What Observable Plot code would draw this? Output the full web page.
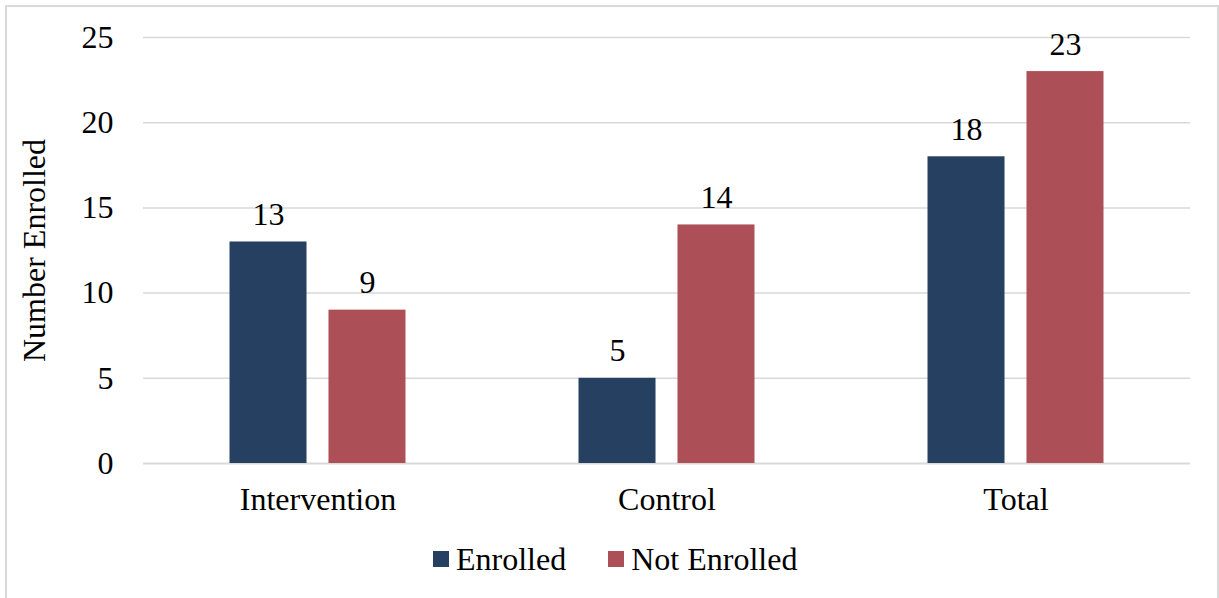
<!DOCTYPE html>
<html><head><meta charset="utf-8">
<script src="https://cdn.jsdelivr.net/npm/d3@7"></script>
<script src="https://cdn.jsdelivr.net/npm/@observablehq/plot@0.6"></script>
<style>
body{margin:0;background:#fff;font-family:"Liberation Serif","Times New Roman",serif;}
#frame{position:absolute;left:5px;top:5px;width:1214px;height:600px;border:2px solid #d9d9d9;box-sizing:border-box;pointer-events:none}
#chart{position:absolute;left:0;top:0}
#legend{position:absolute;top:541px;left:433px;display:flex;align-items:center;font-size:32px;color:#000;line-height:36px}
.item{display:flex;align-items:center}
.sw{width:16px;height:16px;margin-right:7px}
</style>
</head><body>
<div id="chart"></div>
<div id="legend"></div>
<div id="frame"></div>
<script>
const categories = ["Intervention", "Control", "Total"];
const series = ["Enrolled", "Not Enrolled"];
const enrolled = [13, 5, 18];
const notEnrolled = [9, 14, 23];
const yTicks = [0, 5, 10, 15, 20, 25];
const colors = ["#264061", "#AD4F57"];

const data = categories.flatMap((c, i) => [
  {category: c, series: series[0], value: enrolled[i]},
  {category: c, series: series[1], value: notEnrolled[i]}
]);

const chart = Plot.plot({
  width: 1219, height: 520,
  marginLeft: 143, marginRight: 29, marginTop: 37, marginBottom: 57,
  style: {fontFamily: '"Liberation Serif","Times New Roman",serif', fontSize: "32px", color: "#000", background: "transparent", overflow: "visible"},
  fx: {domain: categories, padding: 0, label: null, axis: "bottom", tickSize: 0, tickPadding: 24},
  x: {domain: series, paddingInner: 0.222, paddingOuter: 0.874, axis: null, round: false},
  y: {domain: [0, 25], ticks: yTicks, tickSize: 0, tickPadding: 30, label: "Number Enrolled", labelAnchor: "center", labelArrow: "none", labelOffset: 121},
  color: {domain: series, range: colors},
  marks: [
    Plot.ruleY(yTicks.filter(d => d > 0), {stroke: "#d9d9d9", strokeWidth: 1.5}),
    Plot.ruleY([0], {stroke: "#d9d9d9", strokeWidth: 2}),
    Plot.barY(data, {fx: "category", x: "series", y: "value", fill: "series"}),
    Plot.text(data, {fx: "category", x: "series", y: "value", text: d => String(d.value), lineAnchor: "bottom", dy: -17, fontSize: 32, fill: "#000"})
  ]
});
document.getElementById("chart").appendChild(chart);

const legend = document.getElementById("legend");
series.forEach((s, i) => {
  const it = document.createElement("div");
  it.className = "item";
  it.style.marginRight = i === 0 ? "42px" : "0";
  const sw = document.createElement("span");
  sw.className = "sw";
  sw.style.background = colors[i];
  const tx = document.createElement("span");
  tx.textContent = s;
  it.appendChild(sw); it.appendChild(tx);
  legend.appendChild(it);
});
</script>
</body></html>
